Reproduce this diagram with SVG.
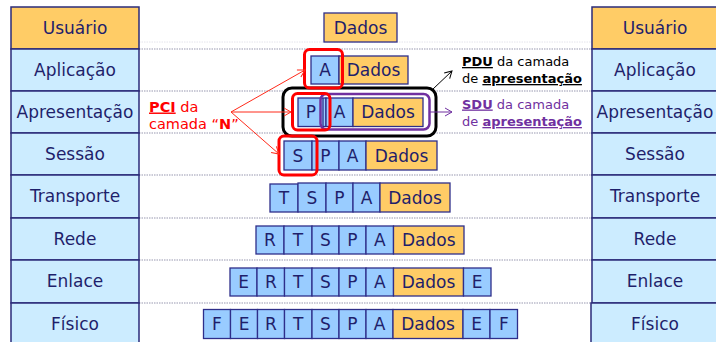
<svg xmlns="http://www.w3.org/2000/svg" width="716" height="342" viewBox="0 0 716 342">
<style>
.col{fill:#CCECFF;stroke:#2B2B7A;stroke-width:1.5}
.usr{fill:#FFCC66;stroke:#2B2B7A;stroke-width:1.5}
.ct{font-family:"DejaVu Sans",sans-serif;font-size:17px;fill:#1F1F6B;text-anchor:middle}
.c{fill:#99CCFF;stroke:#2E2E8A;stroke-width:1.3}
.d{fill:#FFCC66;stroke:#2E2E8A;stroke-width:1.3}
.dot{stroke:#9898B0;stroke-width:1.2;stroke-dasharray:1.5 1}
.faint{stroke:#E4E4EC;stroke-width:1;stroke-dasharray:1.5 1}
.ann{font-family:"DejaVu Sans",sans-serif;font-size:13px}
.pci{font-family:"DejaVu Sans",sans-serif;font-size:14.5px}
.u{text-decoration:underline;font-weight:bold}
</style>
<defs>
<marker id="ar" markerWidth="10" markerHeight="10" refX="8" refY="5" orient="auto" markerUnits="userSpaceOnUse">
<path d="M1,1 L8,5 L1,9" fill="none" stroke="#FF2A1A" stroke-width="1"/>
</marker>
<marker id="ak" markerWidth="10" markerHeight="10" refX="8" refY="5" orient="auto" markerUnits="userSpaceOnUse">
<path d="M1,1 L8,5 L1,9" fill="none" stroke="#000" stroke-width="1"/>
</marker>
<marker id="ap" markerWidth="10" markerHeight="10" refX="8" refY="5" orient="auto" markerUnits="userSpaceOnUse">
<path d="M1,1 L8,5 L1,9" fill="none" stroke="#7030A0" stroke-width="1"/>
</marker>
</defs>

<g id="guides">
<line class="faint" x1="139" y1="42" x2="592" y2="42"/>
<line class="dot" x1="139" y1="49" x2="592" y2="49"/>
<line class="dot" x1="139" y1="91" x2="592" y2="91"/>
<line class="dot" x1="139" y1="133" x2="592" y2="133"/>
<line class="dot" x1="139" y1="175" x2="592" y2="175"/>
<line class="dot" x1="139" y1="218" x2="592" y2="218"/>
<line class="dot" x1="139" y1="260" x2="592" y2="260"/>
<line class="dot" x1="139" y1="303" x2="592" y2="303"/>
</g>

<g id="left-stack">
<rect class="usr" x="11" y="7" width="128" height="42"/><text class="ct" x="75" y="34">Usuário</text>
<rect class="col" x="11" y="49" width="128" height="42"/><text class="ct" x="75" y="76">Aplicação</text>
<rect class="col" x="11" y="91" width="128" height="42"/><text class="ct" x="75" y="118">Apresentação</text>
<rect class="col" x="11" y="133" width="128" height="42"/><text class="ct" x="75" y="160">Sessão</text>
<rect class="col" x="11" y="175" width="128" height="43"/><text class="ct" x="75" y="202">Transporte</text>
<rect class="col" x="11" y="218" width="128" height="42"/><text class="ct" x="75" y="245">Rede</text>
<rect class="col" x="11" y="260" width="128" height="43"/><text class="ct" x="75" y="287">Enlace</text>
<rect class="col" x="11" y="303" width="128" height="45"/><text class="ct" x="75" y="330">Físico</text>
</g>

<g id="right-stack">
<rect class="usr" x="592" y="7" width="130" height="42"/><text class="ct" x="655" y="34">Usuário</text>
<rect class="col" x="592" y="49" width="130" height="42"/><text class="ct" x="655" y="76">Aplicação</text>
<rect class="col" x="592" y="91" width="130" height="42"/><text class="ct" x="655" y="118">Apresentação</text>
<rect class="col" x="592" y="133" width="130" height="42"/><text class="ct" x="655" y="160">Sessão</text>
<rect class="col" x="592" y="175" width="130" height="43"/><text class="ct" x="655" y="202">Transporte</text>
<rect class="col" x="592" y="218" width="130" height="42"/><text class="ct" x="655" y="245">Rede</text>
<rect class="col" x="592" y="260" width="130" height="43"/><text class="ct" x="655" y="287">Enlace</text>
<rect class="col" x="591" y="303" width="131" height="45"/><text class="ct" x="655" y="330">Físico</text>
</g>

<g id="pdu-frame">
<rect x="283" y="88" width="153" height="48" rx="9" fill="#fff" stroke="#000" stroke-width="3"/>
</g>

<g id="row-usuario">
<rect class="d" x="324" y="13" width="73" height="29"/><text class="ct" x="360.5" y="33.5">Dados</text>
</g>

<g id="row-aplicacao">
<rect class="c" x="311" y="56" width="28" height="28"/><text class="ct" x="325" y="76">A</text>
<rect class="d" x="339" y="56" width="69" height="28"/><text class="ct" x="373.5" y="76">Dados</text>
</g>

<g id="row-apresentacao">
<rect class="c" x="298" y="98" width="28" height="28.5"/><line x1="323" y1="98" x2="323" y2="126.5" stroke="#2E2E8A" stroke-width="1.3"/><text class="ct" x="311" y="118">P</text>
<rect class="c" x="326" y="98" width="27" height="28.5"/><text class="ct" x="339.5" y="118">A</text>
<rect class="d" x="353" y="98" width="70" height="28.5"/><text class="ct" x="388" y="118">Dados</text>
</g>

<g id="row-sessao">
<rect class="c" x="284" y="141" width="28" height="29"/><text class="ct" x="298" y="161.5">S</text>
<rect class="c" x="312" y="141" width="27" height="29"/><text class="ct" x="325.5" y="161.5">P</text>
<rect class="c" x="339" y="141" width="27" height="29"/><text class="ct" x="352.5" y="161.5">A</text>
<rect class="d" x="366" y="141" width="71" height="29"/><text class="ct" x="401.5" y="161.5">Dados</text>
</g>

<g id="row-transporte">
<rect class="c" x="270" y="184" width="28" height="28"/><text class="ct" x="284" y="204">T</text>
<rect class="c" x="298" y="183" width="28" height="29"/><text class="ct" x="312" y="204">S</text>
<rect class="c" x="326" y="183" width="27" height="29"/><text class="ct" x="339.5" y="204">P</text>
<rect class="c" x="353" y="183" width="27" height="29"/><text class="ct" x="366.5" y="204">A</text>
<rect class="d" x="380" y="183" width="70" height="29"/><text class="ct" x="415" y="204">Dados</text>
</g>

<g id="row-rede">
<rect class="c" x="256" y="226" width="28" height="28"/><text class="ct" x="270" y="246">R</text>
<rect class="c" x="284" y="226" width="28" height="28"/><text class="ct" x="298" y="246">T</text>
<rect class="c" x="312" y="226" width="27" height="28"/><text class="ct" x="325.5" y="246">S</text>
<rect class="c" x="339" y="226" width="27" height="28"/><text class="ct" x="352.5" y="246">P</text>
<rect class="c" x="366" y="226" width="27.5" height="28"/><text class="ct" x="379.8" y="246">A</text>
<rect class="d" x="393.5" y="226" width="70.5" height="28"/><text class="ct" x="428.8" y="246">Dados</text>
</g>

<g id="row-enlace">
<rect class="c" x="230" y="268" width="27" height="28"/><text class="ct" x="243.5" y="288">E</text>
<rect class="c" x="257" y="268" width="27.5" height="28"/><text class="ct" x="270.8" y="288">R</text>
<rect class="c" x="284.5" y="268" width="27.5" height="28"/><text class="ct" x="298.2" y="288">T</text>
<rect class="c" x="312" y="268" width="27" height="28"/><text class="ct" x="325.5" y="288">S</text>
<rect class="c" x="339" y="268" width="27" height="28"/><text class="ct" x="352.5" y="288">P</text>
<rect class="c" x="366" y="268" width="27.5" height="28"/><text class="ct" x="379.8" y="288">A</text>
<rect class="d" x="393.5" y="268" width="70" height="28"/><text class="ct" x="428.5" y="288">Dados</text>
<rect class="c" x="463.5" y="268" width="27.5" height="28"/><text class="ct" x="477.2" y="288">E</text>
</g>

<g id="row-fisico">
<rect class="c" x="203.5" y="309.5" width="27" height="29"/><text class="ct" x="217" y="330">F</text>
<rect class="c" x="230.5" y="309.5" width="27" height="29"/><text class="ct" x="244" y="330">E</text>
<rect class="c" x="257.5" y="309.5" width="27" height="29"/><text class="ct" x="271" y="330">R</text>
<rect class="c" x="284.5" y="309.5" width="27.5" height="29"/><text class="ct" x="298.2" y="330">T</text>
<rect class="c" x="312" y="309.5" width="27" height="29"/><text class="ct" x="325.5" y="330">S</text>
<rect class="c" x="339" y="309.5" width="27" height="29"/><text class="ct" x="352.5" y="330">P</text>
<rect class="c" x="366" y="309.5" width="27" height="29"/><text class="ct" x="379.5" y="330">A</text>
<rect class="d" x="393" y="309.5" width="70" height="29"/><text class="ct" x="428" y="330">Dados</text>
<rect class="c" x="463" y="309.5" width="27" height="29"/><text class="ct" x="476.5" y="330">E</text>
<rect class="c" x="490" y="309.5" width="27.5" height="29"/><text class="ct" x="503.8" y="330">F</text>
</g>

<g id="highlights" fill="none">
<rect x="320.5" y="94" width="109" height="35.5" rx="6" stroke="#7030A0" stroke-width="2.5"/>
<rect x="304.5" y="49.5" width="38" height="38.5" rx="5" stroke="#FF0000" stroke-width="3"/>
<rect x="292.5" y="93.5" width="37.5" height="36.5" rx="5" stroke="#FF0000" stroke-width="3"/>
<rect x="279" y="136" width="38" height="39" rx="5" stroke="#FF0000" stroke-width="3"/>
</g>

<g id="connectors" fill="none" stroke-width="1">
<line x1="231" y1="112" x2="305" y2="70" stroke="#FF2A1A" marker-end="url(#ar)"/>
<line x1="231" y1="112" x2="291" y2="112" stroke="#FF2A1A" marker-end="url(#ar)"/>
<line x1="231" y1="112" x2="279" y2="154" stroke="#FF2A1A" marker-end="url(#ar)"/>
<line x1="433" y1="89" x2="452" y2="71" stroke="#000" marker-end="url(#ak)"/>
<line x1="430" y1="112" x2="452" y2="112" stroke="#7030A0" marker-end="url(#ap)"/>
</g>

<g id="pci-label" class="pci" fill="#FF0000">
<text x="149" y="111.5"><tspan class="u">PCI</tspan> da</text>
<text x="149" y="129">camada “<tspan font-weight="bold">N</tspan>”</text>
</g>

<g id="pdu-label" class="ann" fill="#000">
<text x="462" y="66"><tspan class="u">PDU</tspan> da camada</text>
<text x="462" y="83">de <tspan class="u">apresentação</tspan></text>
</g>

<g id="sdu-label" class="ann" fill="#7030A0">
<text x="462" y="108.5"><tspan class="u">SDU</tspan> da camada</text>
<text x="462" y="126">de <tspan class="u">apresentação</tspan></text>
</g>
</svg>
